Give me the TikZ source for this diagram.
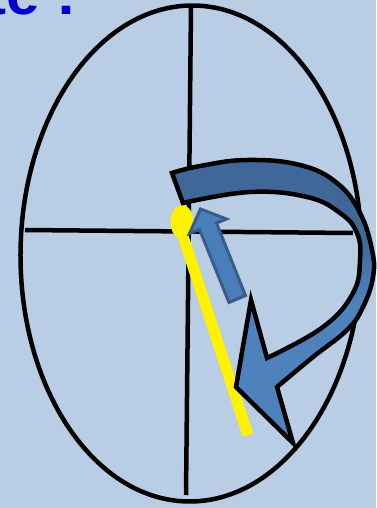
\documentclass[tikz,border=0pt]{standalone}
\usepackage{fontspec}
\newfontfamily\titlefont{Liberation Sans}
\definecolor{bg}{HTML}{B9CDE5}
\definecolor{titleblue}{RGB}{0,0,204}
\definecolor{darkb}{HTML}{3F6797}
\definecolor{lightb}{HTML}{4F81BD}
\definecolor{arrowfill}{HTML}{4A7EBB}
\definecolor{arrowedge}{HTML}{385D8A}
\pgfdeclareverticalshading{bandshade}{100bp}{color(0bp)=(lightb); color(50bp)=(lightb); color(62bp)=(darkb); color(100bp)=(darkb)}
\tikzset{
  axisline/.style={line width=4.5pt, draw=black},
  outline/.style={line width=4.5pt, draw=black},
  yellowbar/.style={line width=11pt, draw=yellow},
}
\begin{document}
\begin{tikzpicture}[x=1pt,y=-1pt]
\useasboundingbox (0,0) rectangle (376,508);
\fill[bg] (0,0) rectangle (376,508);
\node[font=\titlefont\bfseries\fontsize{60}{60}\selectfont, text=titleblue, anchor=base east, inner sep=0pt] (title) at (77,15) {Rotate :};
% ellipse and axes
\draw[outline, rotate around={-0.58:(191,253.5)}] (191,253.5) ellipse [x radius=170.5pt, y radius=248pt];
\draw[axisline] (191,7) -- (186,495);
\draw[axisline] (25,230) -- (353,233);
% yellow pendulum
\draw[yellowbar] (182,233) -- (248,435);
\fill[yellow] (182,222) ellipse [x radius=11.5pt, y radius=17pt];
% small straight arrow
\filldraw[fill=arrowfill, draw=arrowedge, line width=3pt, line join=miter]
  (229,302.5) -- (199.5,229.5) -- (189.5,233.5) -- (200.5,209) -- (226.5,219) -- (216.5,223) -- (245.5,295.5) -- cycle;
% big curved arrow
\shadedraw[shading=bandshade, outline, line join=miter, miter limit=20]
  (172,173) -- plot[smooth, tension=0.7] coordinates {(172,173) (200,166) (247,160) (300,165) (337,183) (360,213) (372,250) (373,277) (363,307) (347,330) (313,357) (277,387)}
  -- (293,443) -- (236,387) -- (251,300)
  -- plot[smooth, tension=0.7] coordinates {(267,358) (323,327) (353,293) (360,260) (357,233) (340,213) (307,197) (250,192) (183,203)}
  -- cycle;
\end{tikzpicture}
\end{document}
